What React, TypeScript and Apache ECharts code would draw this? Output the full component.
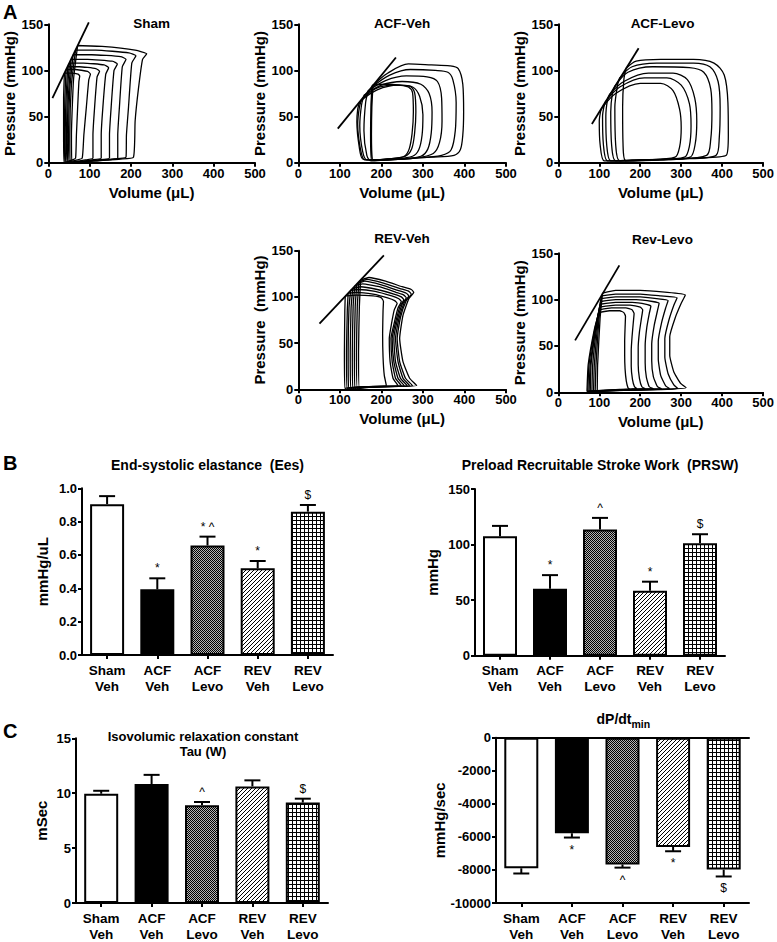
import React, { useEffect, useRef } from 'react';
import * as echarts from 'echarts';

// ---------- PV loop data: [volume µL, pressure mmHg] ----------
const shamLoops: number[][][] = [
  [[39,97],[55,97],[72,96],[76,94],[74,88],[71,60],[68,30],[66,5],[58,3],[45,1],[38,0],[37,30],[37,70],[39,97]],
  [[43,101],[65,101],[95,99],[102,96],[98,90],[92,60],[86,30],[82,5],[70,3],[50,1],[40,0],[39,30],[40,70],[43,101]],
  [[47,104],[75,104],[115,102],[124,99],[118,93],[112,60],[108,30],[108,5],[90,3],[60,1],[42,0],[41,30],[43,70],[47,104]],
  [[51,108],[85,108],[135,106],[146,103],[139,96],[132,60],[128,30],[128,5],[105,3],[70,1],[45,0],[44,30],[46,75],[51,108]],
  [[55,112],[95,112],[155,110],[167,107],[159,100],[152,60],[148,30],[148,5],[120,3],[80,1],[47,0],[46,30],[49,75],[55,112]],
  [[60,117],[105,117],[175,115],[188,112],[179,104],[172,60],[168,30],[168,5],[140,3],[90,1],[50,0],[49,30],[52,80],[60,117]],
  [[66,122],[115,122],[195,119],[212,116],[202,108],[194,60],[189,30],[188,6],[160,4],[100,2],[53,0],[52,30],[56,85],[66,122]],
  [[71,127],[130,126],[210,122],[238,118],[228,112],[218,80],[210,45],[206,6],[175,4],[110,2],[57,0],[56,30],[61,90],[71,127]],
];
const acfVehLoops: number[][][] = [
  [[180,84],[215,97],[265,107],[320,106],[365,105],[385,102],[396,85],[398,55],[396,30],[390,14],[375,8],[320,6],[250,4],[190,3],[178,3],[176,30],[177,60],[180,84]],
  [[177,82],[220,95],[270,101],[330,100],[360,98],[372,90],[380,65],[378,35],[368,14],[345,8],[280,5],[200,3],[176,3],[174,30],[175,60],[177,82]],
  [[168,78],[210,89],[260,94],[310,93],[335,88],[345,70],[346,45],[340,22],[325,10],[280,5],[210,3],[175,2],[165,8],[158,35],[162,65],[168,78]],
  [[158,73],[200,84],[250,88],[295,85],[315,75],[322,55],[320,32],[312,15],[295,7],[240,4],[190,3],[165,3],[155,12],[148,40],[152,62],[158,73]],
  [[152,68],[190,79],[240,84],[275,82],[292,72],[300,52],[298,30],[290,14],[275,7],[230,4],[185,3],[160,3],[150,14],[143,42],[147,60],[152,68]],
  [[147,65],[185,80],[230,84],[268,83],[280,76],[283,55],[280,32],[273,15],[258,7],[215,4],[180,3],[155,4],[147,16],[141,44],[143,58],[147,65]],
  [[178,84],[210,85],[245,84],[265,82],[275,76],[277,55],[274,32],[267,15],[255,7],[215,4],[185,3],[178,4],[176,30],[176,60],[178,84]],
];
const acfLevoLoops: number[][][] = [
  [[165,102],[190,110],[250,112],[330,112],[380,108],[405,95],[414,65],[415,30],[410,8],[330,5],[230,3],[165,2],[158,20],[157,60],[160,90],[165,102]],
  [[150,92],[180,104],[240,108],[330,108],[370,104],[390,88],[395,60],[393,28],[385,8],[300,4],[200,3],[150,2],[140,20],[138,60],[145,85],[150,92]],
  [[138,83],[170,98],[230,104],[320,103],[355,98],[372,80],[375,55],[372,25],[362,8],[280,4],[180,3],[140,2],[130,20],[128,55],[132,75],[138,83]],
  [[125,74],[160,88],[220,97],[280,97],[315,90],[333,70],[338,45],[334,20],[322,6],[250,3],[160,2],[128,2],[118,20],[116,50],[120,68],[125,74]],
  [[115,66],[150,82],[210,92],[265,92],[300,84],[320,64],[324,40],[320,18],[308,6],[230,3],[150,2],[120,2],[110,20],[108,50],[111,60],[115,66]],
  [[106,59],[140,75],[200,86],[250,86],[280,78],[296,58],[300,38],[296,17],[285,6],[210,3],[140,2],[112,2],[102,20],[100,45],[103,55],[106,59]],
];
const revVehLoops: number[][][] = [
  [[150,118],[170,121],[210,117],[250,111],[272,108],[278,105],[266,98],[252,80],[244,55],[252,30],[268,12],[285,4],[230,3],[170,2],[147,1],[145,40],[147,90],[150,118]],
  [[146,116],[165,119],[205,115],[245,109],[266,106],[272,103],[260,96],[246,78],[238,55],[244,30],[258,12],[275,4],[220,3],[160,2],[142,1],[140,40],[142,90],[146,116]],
  [[141,114],[160,117],[200,113],[240,107],[260,104],[266,101],[255,94],[242,76],[234,55],[240,30],[252,12],[268,4],[210,3],[155,2],[136,1],[135,40],[137,90],[141,114]],
  [[136,112],[155,114],[195,111],[235,105],[254,102],[260,99],[250,92],[238,74],[230,55],[234,30],[246,12],[262,4],[200,3],[150,2],[131,1],[130,40],[132,90],[136,112]],
  [[131,109],[150,111],[190,108],[230,103],[248,100],[254,97],[245,90],[234,72],[226,55],[230,30],[240,12],[255,4],[190,3],[145,2],[126,1],[125,40],[127,88],[131,109]],
  [[126,107],[145,108],[185,106],[225,101],[242,98],[248,95],[240,88],[230,70],[223,55],[226,30],[234,12],[248,4],[180,3],[140,2],[121,1],[120,40],[122,88],[126,107]],
  [[120,104],[140,105],[180,103],[215,99],[232,96],[238,93],[231,86],[224,70],[219,55],[221,30],[228,12],[240,4],[175,3],[135,2],[117,1],[116,40],[118,86],[120,104]],
  [[113,101],[140,102],[180,101],[200,99],[205,95],[204,85],[203,60],[204,35],[207,15],[212,4],[170,3],[130,2],[112,1],[111,40],[112,85],[113,101]],
];
const revLevoLoops: number[][][] = [
  [[108,107],[140,110],[200,110],[260,108],[310,105],[300,96],[285,80],[272,60],[272,40],[282,22],[298,10],[312,5],[250,3],[160,2],[95,1],[96,30],[102,80],[108,107]],
  [[106,104],[140,106],[200,106],[250,104],[290,102],[282,94],[270,78],[260,58],[260,38],[268,20],[282,8],[292,4],[230,3],[150,2],[90,1],[92,30],[99,78],[106,104]],
  [[104,101],[140,103],[200,103],[240,101],[268,99],[262,91],[252,75],[244,55],[244,36],[250,18],[262,7],[272,4],[210,3],[140,2],[86,1],[88,30],[97,78],[104,101]],
  [[103,98],[140,100],[190,100],[230,98],[246,96],[242,88],[234,72],[228,52],[228,34],[232,17],[242,6],[252,4],[195,3],[130,2],[82,1],[84,30],[95,76],[103,98]],
  [[102,95],[140,97],[180,97],[215,95],[226,93],[222,85],[216,70],[212,50],[212,32],[215,16],[222,6],[232,4],[180,3],[120,2],[78,1],[80,30],[93,74],[102,95]],
  [[101,92],[140,94],[175,94],[200,92],[206,89],[203,80],[198,65],[195,48],[195,30],[198,15],[204,6],[212,4],[165,3],[115,2],[75,1],[78,30],[92,72],[101,92]],
  [[100,89],[130,91],[165,91],[180,89],[185,85],[183,75],[180,60],[178,45],[178,28],[181,14],[186,6],[192,4],[150,3],[110,2],[72,1],[75,30],[90,70],[100,89]],
  [[99,86],[125,88],[150,88],[160,86],[164,82],[163,70],[162,55],[162,40],[163,25],[166,12],[170,5],[174,3],[140,2],[105,2],[70,1],[73,30],[88,68],[99,86]],
];
// ESPVR lines
const shamEspvr = [[10,70],[98,152]];
const acfVehEspvr = [[95,37],[235,114]];
const acfLevoEspvr = [[82,42],[196,124]];
const revVehEspvr = [[51,71],[206,145]];
const revLevoEspvr = [[41,56],[149,137]];

const pvTitles = ['Sham', 'ACF-Veh', 'ACF-Levo', 'REV-Veh', 'Rev-Levo'];
const pressureNames = ['Pressure (mmHg)', 'Pressure (mmHg)', 'Pressure (mmHg)', 'Pressure  (mmHg)', 'Pressure (mmHg)'];

// ---------- Bar data ----------
const groups = ['Sham\nVeh', 'ACF\nVeh', 'ACF\nLevo', 'REV\nVeh', 'REV\nLevo'];
const eesMean = [0.905, 0.394, 0.657, 0.52, 0.86];
const eesSem = [0.048, 0.066, 0.053, 0.044, 0.04];
const eesSig = ['', '*', '* ^', '*', '$'];
const prswMean = [107.5, 60.3, 113.5, 58.5, 101.2];
const prswSem = [9.3, 12.2, 10.5, 8.1, 8.1];
const prswSig = ['', '*', '^', '*', '$'];
const tauMean = [9.95, 10.84, 8.9, 10.62, 9.15];
const tauSem = [0.27, 0.83, 0.3, 0.55, 0.35];
const tauSig = ['', '', '^', '', '$'];
const dpdtMean = [-7900, -5780, -7665, -6610, -7980];
const dpdtSem = [315, 260, 195, 260, 415];
const dpdtSig = ['', '*', '^', '*', '$'];

const FONT = '"Liberation Sans", Arial, Helvetica, sans-serif';

function makePattern(kind: string): any {
  const size = 4;
  const c = document.createElement('canvas');
  c.width = size; c.height = size;
  const ctx = c.getContext('2d')!;
  ctx.fillStyle = '#fff';
  ctx.fillRect(0, 0, size, size);
  if (kind === 'checker') {
    for (let y = 0; y < size; y++) {
      for (let x = 0; x < size; x++) {
        ctx.fillStyle = (x + y) % 2 === 0 ? '#000' : '#b4b4b4';
        ctx.fillRect(x, y, 1, 1);
      }
    }
  }
  ctx.fillStyle = '#000';
  if (kind === 'diag') { for (let i = 0; i < size; i++) ctx.fillRect(i, size - 1 - i, 1, 1); }
  if (kind === 'grid') { ctx.fillRect(0, 0, size, 1); ctx.fillRect(0, 0, 1, size); }
  return { image: c.toDataURL(), repeat: 'repeat', imageWidth: size, imageHeight: size };
}

export default function App() {
  const ref = useRef<HTMLDivElement>(null);
  useEffect(() => {
    if (!ref.current) return;
    const chart = echarts.init(ref.current, undefined, { renderer: 'svg' });
    const fills = ['#ffffff', '#000000', makePattern('checker'), makePattern('diag'), makePattern('grid')];

    const axisLine = { show: true, onZero: false, lineStyle: { color: '#000', width: 2 } };
    const axisTick = { show: true, length: 4, lineStyle: { color: '#000', width: 2 } };
    const tickFont = { color: '#000', fontWeight: 'bold' as const, fontSize: 13, fontFamily: FONT };
    const nameFont = { color: '#000', fontWeight: 'bold' as const, fontSize: 15, fontFamily: FONT };

    const pvGrids = [
      { left: 48.3, top: 24.3, width: 206.7, height: 138.4 },
      { left: 298.3, top: 24.3, width: 207.7, height: 138.4 },
      { left: 558.3, top: 24.3, width: 208.4, height: 138.4 },
      { left: 298.3, top: 250.7, width: 207.7, height: 138.6 },
      { left: 558.3, top: 253.3, width: 208.4, height: 139 },
    ];
    const barGrids = [
      { left: 82, top: 488.3, width: 251, height: 166.7 },
      { left: 475, top: 489, width: 250, height: 166.7 },
      { left: 76, top: 738.3, width: 252, height: 168.4 },
      { left: 496, top: 737.7, width: 253, height: 168.3 },
    ];
    const grid = [...pvGrids, ...barGrids].map((g) => ({ ...g, containLabel: false }));

    const xAxis: any[] = [];
    const yAxis: any[] = [];
    pvGrids.forEach((_, i) => {
      xAxis.push({
        type: 'value', gridIndex: i, min: 0, max: 500, interval: 100,
        name: 'Volume (μL)', nameLocation: 'middle', nameGap: 22, nameTextStyle: nameFont,
        axisLine, axisTick, axisLabel: { ...tickFont, margin: 4 }, splitLine: { show: false },
      });
      yAxis.push({
        type: 'value', gridIndex: i, min: 0, max: 150, interval: 50,
        name: pressureNames[i], nameLocation: 'middle', nameGap: 31, nameTextStyle: nameFont,
        axisLine, axisTick, axisLabel: { ...tickFont, margin: 5 }, splitLine: { show: false },
      });
    });
    const barY = [
      { min: 0, max: 1, interval: 0.2, name: 'mmHg/uL', gap: 32, fmt: (v: number) => v.toFixed(1) },
      { min: 0, max: 150, interval: 50, name: 'mmHg', gap: 35, fmt: (v: number) => String(v) },
      { min: 0, max: 15, interval: 5, name: 'mSec', gap: 27, fmt: (v: number) => String(v) },
      { min: -10000, max: 0, interval: 2000, name: 'mmHg/sec', gap: 49, fmt: (v: number) => String(v) },
    ];
    barY.forEach((b, k) => {
      const gi = 5 + k;
      xAxis.push({
        type: 'category', gridIndex: gi, data: groups, position: 'bottom',
        axisLine, axisTick: { ...axisTick, alignWithLabel: true },
        axisLabel: { ...tickFont, fontSize: 13.5, interval: 0, margin: 7, lineHeight: 16 },
      });
      yAxis.push({
        type: 'value', gridIndex: gi, min: b.min, max: b.max, interval: b.interval,
        name: b.name, nameLocation: 'middle', nameGap: b.gap, nameTextStyle: nameFont,
        axisLine, axisTick, axisLabel: { ...tickFont, margin: 5, formatter: b.fmt }, splitLine: { show: false },
      });
    });
    // top line at zero for dP/dt panel
    xAxis.push({
      type: 'category', gridIndex: 8, data: groups, position: 'top',
      axisLine: { show: true, lineStyle: { color: '#000', width: 2 } }, axisTick: { show: false }, axisLabel: { show: false },
    });

    const series: any[] = [];
    const pvSets = [shamLoops, acfVehLoops, acfLevoLoops, revVehLoops, revLevoLoops];
    const espvrs = [shamEspvr, acfVehEspvr, acfLevoEspvr, revVehEspvr, revLevoEspvr];
    const smooths = [0.15, 0.3, 0.3, 0.15, 0.15];
    pvSets.forEach((loops, i) => {
      loops.forEach((loop) => {
        series.push({
          type: 'line', xAxisIndex: i, yAxisIndex: i, data: loop, symbol: 'none', smooth: smooths[i],
          lineStyle: { color: '#000', width: 1.3 }, silent: true,
        });
      });
      series.push({
        type: 'line', xAxisIndex: i, yAxisIndex: i, data: espvrs[i], symbol: 'none', clip: false,
        lineStyle: { color: '#000', width: 1.8 }, silent: true,
      });
    });

    const barSets = [
      { mean: eesMean, sem: eesSem, sig: eesSig, down: false },
      { mean: prswMean, sem: prswSem, sig: prswSig, down: false },
      { mean: tauMean, sem: tauSem, sig: tauSig, down: false },
      { mean: dpdtMean, sem: dpdtSem, sig: dpdtSig, down: true },
    ];
    barSets.forEach((b, k) => {
      const ai = 5 + k;
      series.push({
        type: 'bar', xAxisIndex: ai, yAxisIndex: ai, barWidth: 34,
        data: b.mean.map((v, i) => ({ value: v, itemStyle: { color: fills[i], borderColor: '#000', borderWidth: 2 } })),
        silent: true,
      });
      series.push({
        type: 'custom', xAxisIndex: ai, yAxisIndex: ai, silent: true,
        data: b.mean.map((v, i) => [i, v, b.sem[i]]),
        encode: { x: 0, y: 1 },
        renderItem: (params: any, api: any) => {
          const idx = api.value(0);
          const m = api.value(1);
          const e = api.value(2);
          const base = api.coord([idx, m]);
          const tip = api.coord([idx, b.down ? m - e : m + e]);
          const x = base[0];
          const children: any[] = [
            { type: 'line', shape: { x1: x, y1: base[1], x2: x, y2: tip[1] }, style: { stroke: '#000', lineWidth: 2 } },
            { type: 'line', shape: { x1: x - 8, y1: tip[1], x2: x + 8, y2: tip[1] }, style: { stroke: '#000', lineWidth: 2 } },
          ];
          const s = b.sig[params.dataIndex];
          if (s) {
            children.push({
              type: 'text', x, y: b.down ? tip[1] + 6 : tip[1] - 4,
              style: { text: s, textAlign: 'center', textVerticalAlign: b.down ? 'top' : 'bottom', font: `12px ${FONT}`, fill: '#000' },
            });
          }
          return { type: 'group', children };
        },
      });
    });

    const txt = (text: string, x: number, y: number, size: number, align = 'center', weight = 'bold') => ({
      type: 'text', x, y, silent: true,
      style: { text, textAlign: align, textVerticalAlign: 'middle', font: `${weight} ${size}px ${FONT}`, fill: '#000' },
    });
    const titlePos = [[151.7, 23.5], [402, 23.5], [662.5, 23.5], [402, 238.5], [662.5, 239.5]];
    const elements: any[] = [
      txt('A', 3, 12, 20, 'left'),
      txt('B', 3, 463, 20, 'left'),
      txt('C', 3, 731, 20, 'left'),
      ...pvTitles.map((t, i) => txt(t, titlePos[i][0], titlePos[i][1], 13.5)),
      txt('End-systolic elastance  (Ees)', 207.5, 465, 14),
      txt('Preload Recruitable Stroke Work  (PRSW)', 600, 465, 14),
      txt('Isovolumic relaxation constant', 203, 736, 13),
      txt('Tau (W)', 203, 751, 13),
      txt('dP/dt', 631.5, 719, 14, 'right'),
      txt('min', 631.5, 724, 10.5, 'left'),
    ];

    chart.setOption({
      animation: false,
      backgroundColor: '#fff',
      grid, xAxis, yAxis, series,
      graphic: { elements },
    });
    return () => chart.dispose();
  }, []);
  return <div ref={ref} style={{ position: 'absolute', left: 0, top: 0, width: 777, height: 942, background: '#fff' }} />;
}
